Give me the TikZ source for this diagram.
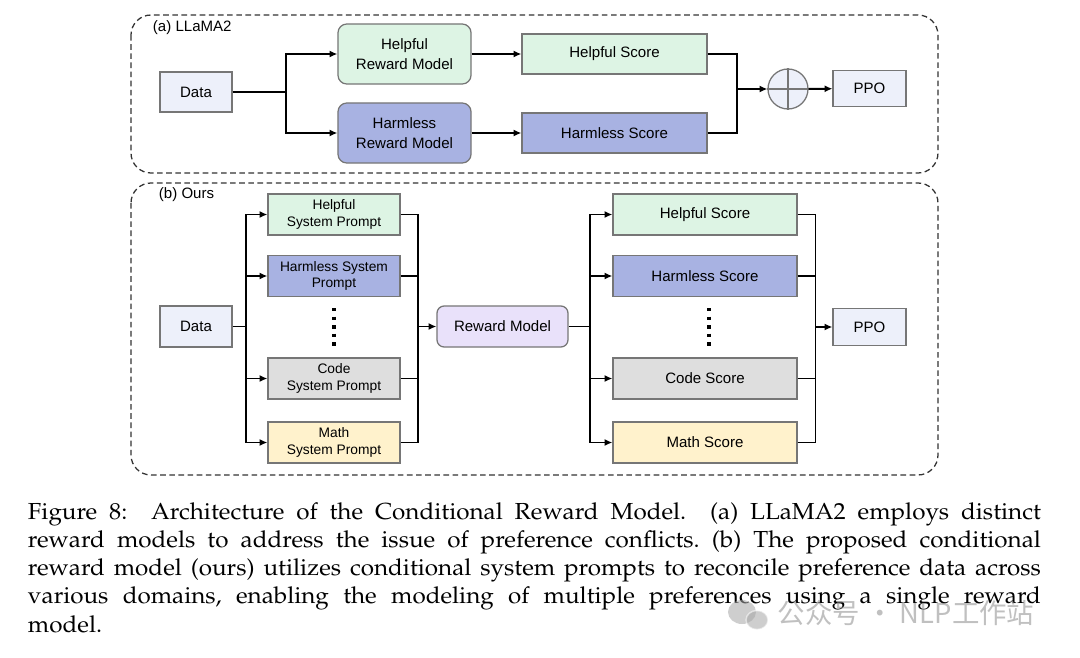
\documentclass[tikz,border=0pt]{standalone}
\usepackage[T1]{fontenc}
\usepackage{fontspec}
\setsansfont{Liberation Sans}
\newfontfamily\cjkfont{Noto Sans CJK SC}
\usepackage{graphicx}
\usetikzlibrary{arrows.meta}

\definecolor{boxline}{RGB}{118,118,118}
\definecolor{datafill}{RGB}{237,240,250}
\definecolor{helpfill}{RGB}{221,244,228}
\definecolor{harmfill}{RGB}{168,178,226}
\definecolor{codefill}{RGB}{222,222,222}
\definecolor{mathfill}{RGB}{255,242,204}
\definecolor{rmfill}{RGB}{233,225,250}

\tikzset{
  box/.style={draw=boxline, line width=0.9pt, inner sep=0pt, align=center,
    font=\sffamily\fontsize{10.7}{13.7}\selectfont},
  smallbox/.style={box, minimum width=3.3cm, minimum height=1.025cm,
    font=\sffamily\fontsize{9.8}{11.9}\selectfont},
  scorebox/.style={box, minimum width=4.6cm, minimum height=1.025cm},
  panel/.style={draw=black!80, line width=0.9pt, dash pattern=on 4pt off 2.5pt,
    rounded corners=0.5cm},
  vdots/.style={line width=2.4pt, dash pattern=on 2.4pt off 3.7pt},
  lbl/.style={inner sep=0pt, anchor=west, font=\sffamily\fontsize{10.7}{13}\selectfont}
}

\begin{document}
\begin{tikzpicture}[x=0.025cm, y=-0.025cm, line width=1.4pt, >={Latex[length=5.5pt,width=5pt]}]
 \useasboundingbox (0,0) rectangle (1080,658);

 % (a) LLaMA2
 \draw[panel] (131,15) rectangle (938,173);
 \node[lbl] (labA) at (152,28) {(a) LLaMA2};

 \node[box, fill=datafill, minimum width=1.8cm, minimum height=1cm] (dataA) at (196,92) {Data};
 \node[box, fill=helpfill, rounded corners=0.22cm, minimum width=3.325cm, minimum height=1.5cm]
   (helprmA) at (404.5,54) {Helpful\\Reward Model};
 \node[box, fill=harmfill, rounded corners=0.22cm, minimum width=3.325cm, minimum height=1.5cm]
   (harmrmA) at (404.5,133) {Harmless\\Reward Model};
 \node[box, fill=helpfill, minimum width=4.625cm, minimum height=1cm] (helpscA) at (614.5,54) {Helpful Score};
 \node[box, fill=harmfill, minimum width=4.625cm, minimum height=1cm] (harmscA) at (614.5,133) {Harmless Score};
 \node[draw=boxline, line width=0.9pt, fill=datafill, circle, minimum size=1cm, inner sep=0pt] (plusA) at (788,89) {};
 \draw[boxline, line width=0.9pt] (plusA.north) -- (plusA.south) (plusA.west) -- (plusA.east);
 \node[box, fill=datafill, minimum width=1.825cm, minimum height=0.9cm] (ppoA) at (869.5,88.5) {PPO};

 \coordinate (splitA) at (286,92);
 \coordinate (joinA) at (737,89);
 \draw (dataA) -- (splitA);
 \draw[->] (splitA) |- (helprmA);
 \draw[->] (splitA) |- (harmrmA);
 \draw[->] (helprmA) -- (helpscA);
 \draw[->] (harmrmA) -- (harmscA);
 \draw (helpscA) -| (joinA);
 \draw (harmscA) -| (joinA);
 \draw[->] (joinA) -- (plusA);
 \draw[->] (plusA) -- (ppoA);

 % (b) Ours
 \draw[panel] (131,183) rectangle (938,475);
 \node[lbl] (labB) at (158,195) {(b) Ours};

 \node[box, fill=datafill, minimum width=1.8cm, minimum height=1.025cm] (dataB) at (196,326.5) {Data};
 \node[smallbox, fill=helpfill] (helpsp) at (334,214.5) {Helpful\\System Prompt};
 \node[smallbox, fill=harmfill] (harmsp) at (334,276) {Harmless System\\Prompt};
 \node[smallbox, fill=codefill] (codesp) at (334,378.5) {Code\\System Prompt};
 \node[smallbox, fill=mathfill] (mathsp) at (334,442.5) {Math\\System Prompt};
 \draw[vdots] (334,308) -- (334,346);

 \node[box, fill=rmfill, rounded corners=0.18cm, minimum width=3.275cm, minimum height=1.025cm]
   (rmB) at (502.5,326.5) {Reward Model};

 \node[scorebox, fill=helpfill] (helpsc) at (705,214.5) {Helpful Score};
 \node[scorebox, fill=harmfill] (harmsc) at (705,276) {Harmless Score};
 \node[scorebox, fill=codefill] (codesc) at (705,378.5) {Code Score};
 \node[scorebox, fill=mathfill] (mathsc) at (705,442.5) {Math Score};
 \draw[vdots] (709,308) -- (709,346);

 \node[box, fill=datafill, minimum width=1.825cm, minimum height=0.925cm] (ppoB) at (869.5,327) {PPO};

 \coordinate (splitB) at (246,326.5);
 \coordinate (joinB) at (418,326.5);
 \coordinate (splitC) at (590,326.5);
 \coordinate (joinC) at (815.5,327);
 \draw (dataB) -- (splitB);
 \foreach \n in {helpsp,harmsp,codesp,mathsp} {
   \draw[->] (splitB) |- (\n);
   \draw (\n) -| (joinB);
 }
 \draw[->] (joinB) -- (rmB);
 \draw (rmB) -- (splitC);
 \foreach \n in {helpsc,harmsc,codesc,mathsc} {
   \draw[->] (splitC) |- (\n);
   \draw (\n) -| (joinC);
 }
 \draw[->] (joinC) -- (ppoB);

 % caption
 \node[inner sep=0pt, anchor=base west] (caption) at (27,519) {\scalebox{1.044}[1]{\parbox[t]{690pt}{%
   \fontencoding{T1}\fontfamily{ppl}\fontsize{16.5}{20.1}\selectfont
   \frenchspacing \hyphenpenalty=10000 \exhyphenpenalty=10000
   Figure 8:\ \ Architecture of the Conditional Reward Model.\ \ (a) LLaMA2 employs distinct\linebreak
   reward models to address the issue of preference conflicts. (b) The proposed conditional\linebreak
   reward model (ours) utilizes conditional system prompts to reconcile preference data across\linebreak
   various domains, enabling the modeling of multiple preferences using a single reward\linebreak
   model.}}};

 % watermark
 \begin{scope}[opacity=0.55]
  \fill[gray!70] (742,612) ellipse (14 and 12);
  \fill[gray!70, draw=white, line width=1pt] (757,620) ellipse (11 and 9.5);
  \node[text=gray!90, inner sep=0pt, anchor=west, font=\cjkfont\fontsize{19.5}{20}\selectfont]
    (mark) at (777,613) {公众号 · NLP工作站};
 \end{scope}
\end{tikzpicture}
\end{document}
